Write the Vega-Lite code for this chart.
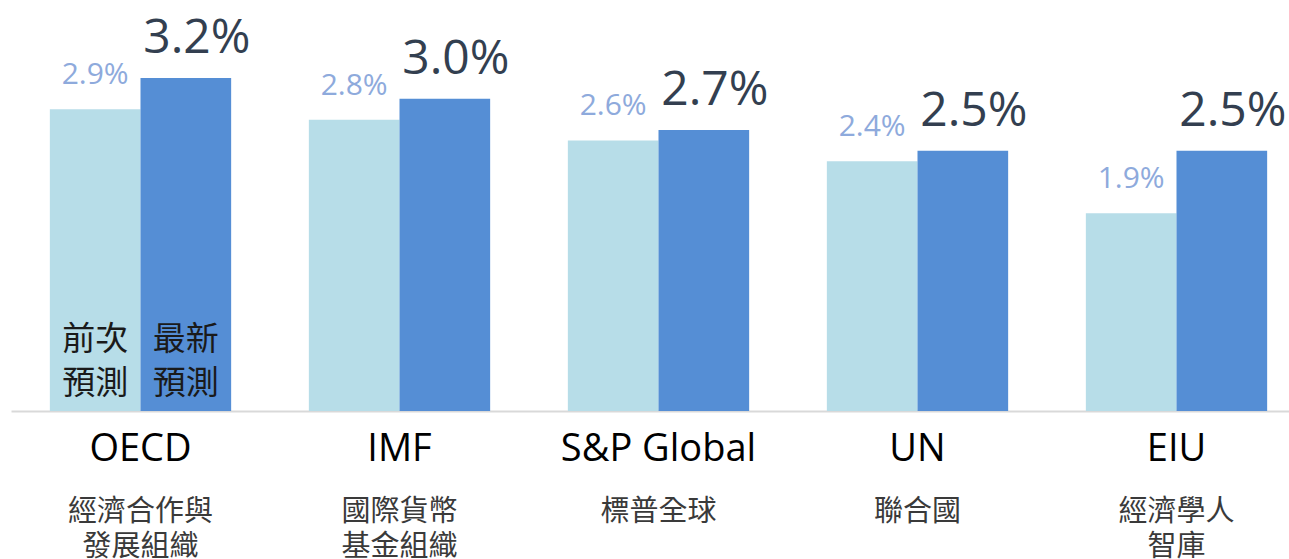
{
  "$schema": "https://vega.github.io/schema/vega-lite/v6.json",
  "autosize": "none",
  "width": 1295,
  "height": 411,
  "padding": {"left": 11, "top": 0, "right": 0, "bottom": 148},
  "background": "white",
  "config": {"view": {"stroke": null}, "font": "Open Sans"},
  "datasets": {
    "main": [
      {"org": "OECD", "series": "前次", "value": 0.029},
      {"org": "OECD", "series": "最新", "value": 0.032},
      {"org": "IMF", "series": "前次", "value": 0.028},
      {"org": "IMF", "series": "最新", "value": 0.030},
      {"org": "S&P Global", "series": "前次", "value": 0.026},
      {"org": "S&P Global", "series": "最新", "value": 0.027},
      {"org": "UN", "series": "前次", "value": 0.024},
      {"org": "UN", "series": "最新", "value": 0.025},
      {"org": "EIU", "series": "前次", "value": 0.019},
      {"org": "EIU", "series": "最新", "value": 0.025}
    ],
    "legend": [
      {"org": "OECD", "series": "前次", "label": "前次\n預測"},
      {"org": "OECD", "series": "最新", "label": "最新\n預測"}
    ]
  },
  "layer": [
    {
      "data": {"name": "main"},
      "mark": {"type": "bar"},
      "encoding": {
        "x": {"field": "org", "type": "nominal", "sort": ["OECD", "IMF", "S&P Global", "UN", "EIU"],
          "scale": {"paddingInner": 0.3, "paddingOuter": 0.15},
          "axis": {"title": null, "orient": "bottom", "domain": true, "domainColor": "#d9d9d9", "domainWidth": 2, "ticks": false, "labelAngle": 0, "labelFontSize": 38, "labelColor": "#000000", "labelFont": "Open Sans", "labelPadding": 19, "labelLimit": 0}},
        "xOffset": {"field": "series", "type": "nominal", "sort": ["前次", "最新"], "scale": {"paddingInner": 0, "paddingOuter": 0}},
        "y": {"field": "value", "type": "quantitative", "scale": {"domain": [0, 0.0395]}, "axis": null},
        "color": {"field": "series", "type": "nominal", "scale": {"domain": ["前次", "最新"], "range": ["#b7dde8", "#558ed5"]}, "legend": null}
      }
    },
    {
      "data": {"name": "main"},
      "transform": [{"filter": "datum.series === '前次'"}],
      "mark": {"type": "text", "fontSize": 30, "color": "#8eaadc", "baseline": "alphabetic", "align": "center", "dy": -25, "font": "Open Sans"},
      "encoding": {
        "x": {"field": "org", "type": "nominal", "sort": ["OECD", "IMF", "S&P Global", "UN", "EIU"],
          "scale": {"paddingInner": 0.3, "paddingOuter": 0.15},
          "axis": {"title": null, "orient": "bottom", "domain": false, "ticks": false, "labelAngle": 0, "labelFontSize": 29, "labelColor": "#3a3a3a", "labelFont": "Noto Sans CJK TC", "labelLineHeight": 35, "labelPadding": 86, "labelLimit": 0,
            "labelExpr": "datum.value === 'OECD' ? ['經濟合作與', '發展組織'] : datum.value === 'IMF' ? ['國際貨幣', '基金組織'] : datum.value === 'S&P Global' ? '標普全球' : datum.value === 'UN' ? '聯合國' : ['經濟學人', '智庫']"}},
        "xOffset": {"field": "series", "type": "nominal", "sort": ["前次", "最新"], "scale": {"paddingInner": 0, "paddingOuter": 0}},
        "y": {"field": "value", "type": "quantitative", "scale": {"domain": [0, 0.0395]}, "axis": null},
        "text": {"field": "value", "type": "quantitative", "format": ".1%"}
      }
    },
    {
      "data": {"name": "main"},
      "transform": [{"filter": "datum.series === '最新'"}],
      "mark": {"type": "text", "fontSize": 48, "color": "#333f50", "baseline": "alphabetic", "align": "center", "dy": -25, "dx": 11, "font": "Open Sans"},
      "encoding": {
        "x": {"field": "org", "type": "nominal", "sort": ["OECD", "IMF", "S&P Global", "UN", "EIU"],
          "scale": {"paddingInner": 0.3, "paddingOuter": 0.15}, "axis": null},
        "xOffset": {"field": "series", "type": "nominal", "sort": ["前次", "最新"], "scale": {"paddingInner": 0, "paddingOuter": 0}},
        "y": {"field": "value", "type": "quantitative", "scale": {"domain": [0, 0.0395]}, "axis": null},
        "text": {"field": "value", "type": "quantitative", "format": ".1%"}
      }
    },
    {
      "data": {"name": "legend"},
      "mark": {"type": "text", "fontSize": 33, "color": "#1a1a1a", "baseline": "bottom", "align": "center", "dy": -54, "lineBreak": "\n", "lineHeight": 44, "font": "Noto Sans CJK TC"},
      "encoding": {
        "x": {"field": "org", "type": "nominal", "sort": ["OECD", "IMF", "S&P Global", "UN", "EIU"],
          "scale": {"paddingInner": 0.3, "paddingOuter": 0.15}, "axis": null},
        "xOffset": {"field": "series", "type": "nominal", "sort": ["前次", "最新"], "scale": {"paddingInner": 0, "paddingOuter": 0}},
        "y": {"datum": 0, "type": "quantitative", "scale": {"domain": [0, 0.0395]}, "axis": null},
        "text": {"field": "label", "type": "nominal"}
      }
    }
  ],
  "resolve": {"axis": {"x": "independent"}}
}
